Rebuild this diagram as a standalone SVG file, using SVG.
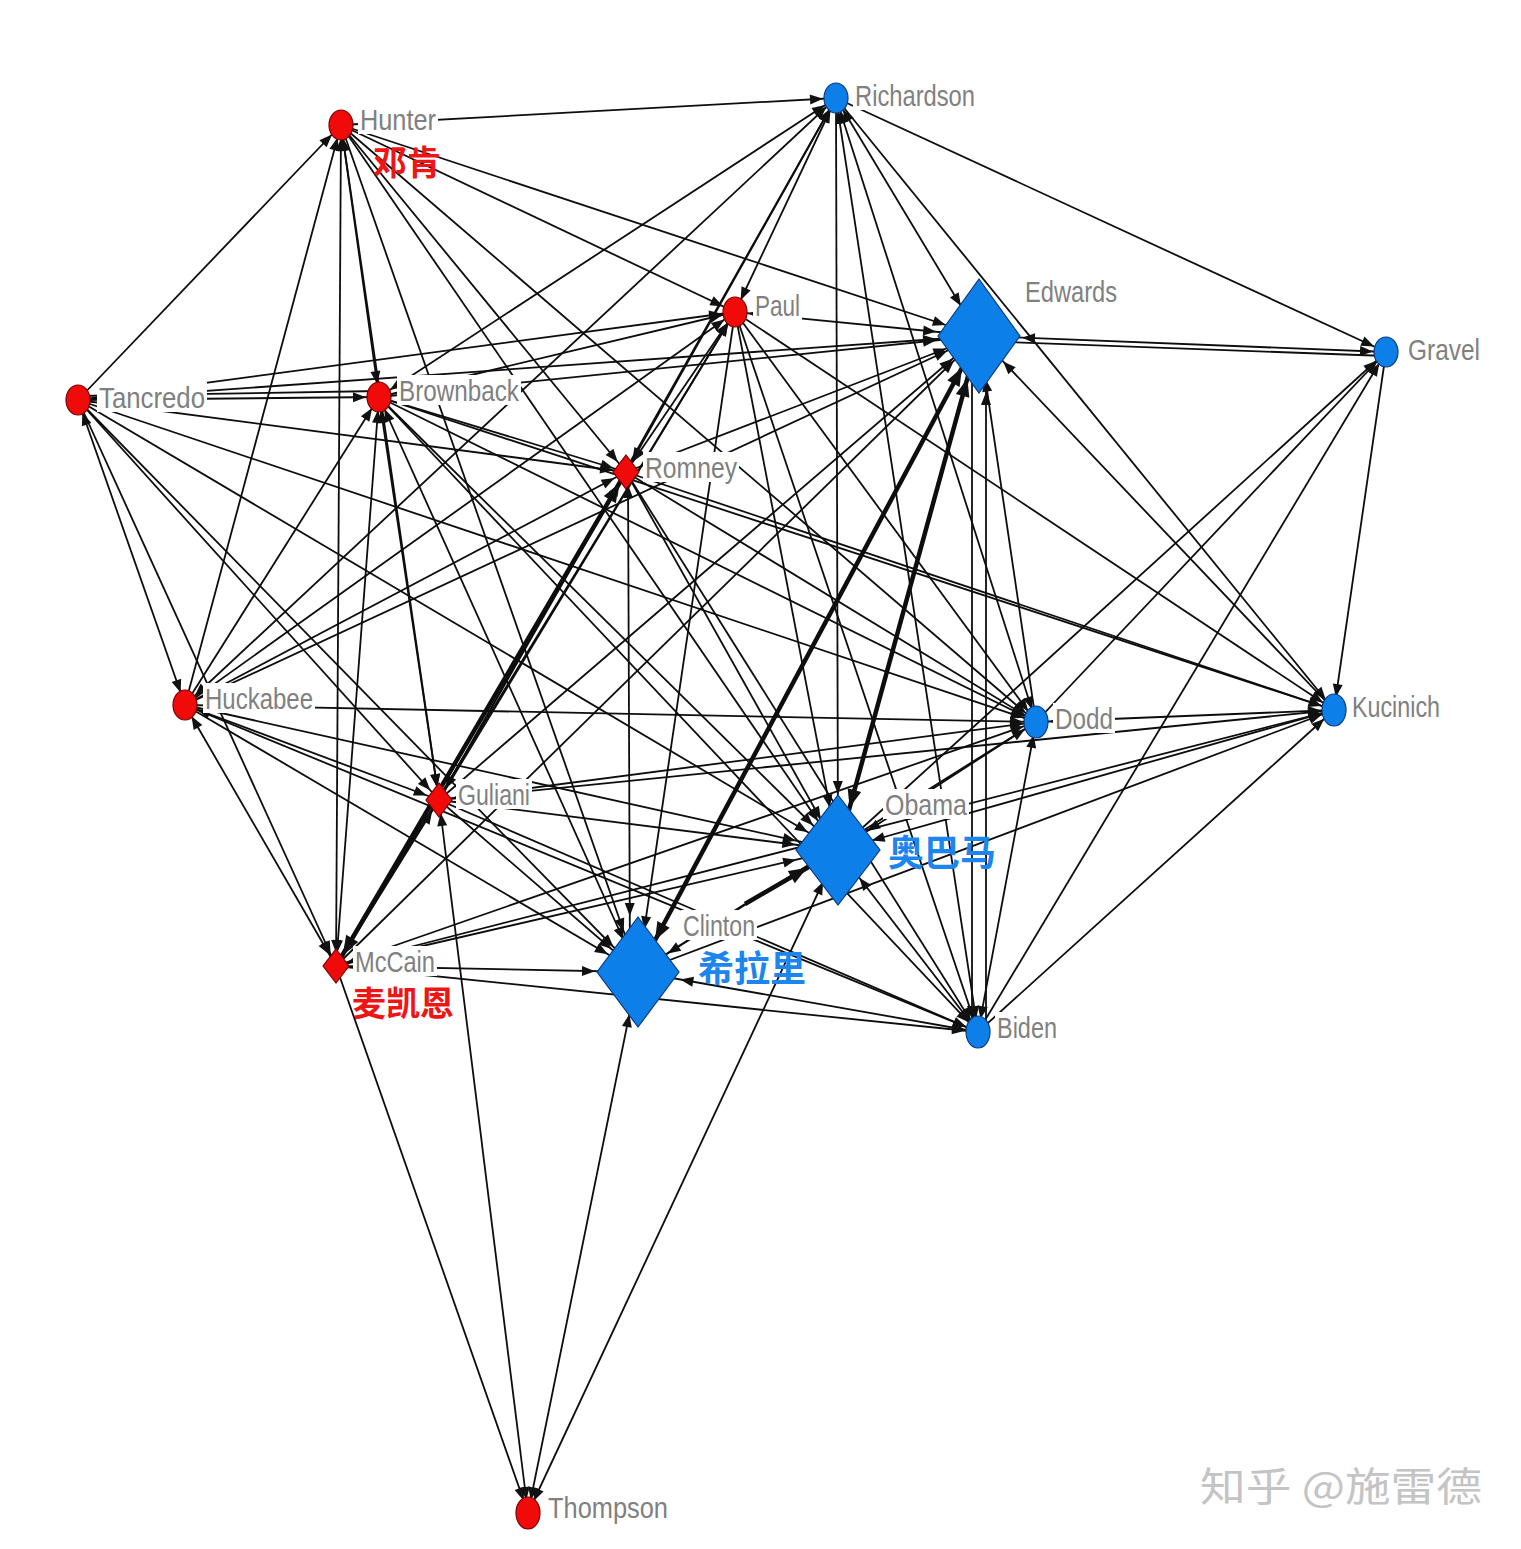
<svg xmlns="http://www.w3.org/2000/svg" width="1521" height="1549" viewBox="0 0 1521 1549">
<style>
.e line{stroke:#0d0d0d;stroke-width:1.8;fill:none}
.e line.tk{stroke-width:4.5}
.red{fill:#f00a0a;stroke:#7a0000;stroke-width:1.2}
.blue{fill:#0c7fe9;stroke:#0a3a80;stroke-width:1.2}
.lb{font-family:"Liberation Sans","DejaVu Sans",sans-serif;font-size:29px;fill:#808080}
.bg{fill:#ffffff}
.cnr{font-family:"Noto Sans CJK SC",sans-serif;font-size:34px;font-weight:bold;fill:#f01414}
.cnb{font-family:"Noto Sans CJK SC",sans-serif;font-size:36px;font-weight:bold;fill:#1c86ee}
.wm{font-family:"Noto Sans CJK SC",sans-serif;font-size:40px;fill:#c4c4c4}
</style>
<defs>
<marker id="s" markerUnits="userSpaceOnUse" orient="auto-start-reverse" refX="13" refY="0" markerWidth="1" markerHeight="1" overflow="visible"><path d="M0,0 L-13,-5 L-13,5 Z" fill="#111"/></marker>
<marker id="d" markerUnits="userSpaceOnUse" orient="auto-start-reverse" refX="35" refY="0" markerWidth="1" markerHeight="1" overflow="visible"><path d="M0,0 L-13,-5 L-13,5 Z" fill="#111"/></marker>
<marker id="h" markerUnits="userSpaceOnUse" orient="auto-start-reverse" refX="43" refY="0" markerWidth="1" markerHeight="1" overflow="visible"><path d="M0,0 L-13,-5 L-13,5 Z" fill="#111"/></marker>
<marker id="v" markerUnits="userSpaceOnUse" orient="auto-start-reverse" refX="56" refY="0" markerWidth="1" markerHeight="1" overflow="visible"><path d="M0,0 L-13,-5 L-13,5 Z" fill="#111"/></marker>
<marker id="ts" markerUnits="userSpaceOnUse" orient="auto-start-reverse" refX="14" refY="0" markerWidth="1" markerHeight="1" overflow="visible"><path d="M0,0 L-18,-7 L-18,7 Z" fill="#111"/></marker>
<marker id="td" markerUnits="userSpaceOnUse" orient="auto-start-reverse" refX="36" refY="0" markerWidth="1" markerHeight="1" overflow="visible"><path d="M0,0 L-18,-7 L-18,7 Z" fill="#111"/></marker>
<marker id="th" markerUnits="userSpaceOnUse" orient="auto-start-reverse" refX="44" refY="0" markerWidth="1" markerHeight="1" overflow="visible"><path d="M0,0 L-18,-7 L-18,7 Z" fill="#111"/></marker>
</defs>
<rect width="1521" height="1549" fill="#ffffff"/>
<g id="connectors" class="e">
<!-- Hunter -->
<line x1="341" y1="125" x2="836" y2="98" marker-end="url(#s)"/>
<line x1="341" y1="125" x2="979" y2="336" marker-end="url(#d)"/>
<line x1="341" y1="125" x2="735" y2="312" marker-end="url(#s)"/>
<line x1="341" y1="125" x2="626" y2="472" marker-end="url(#s)"/>
<line x1="341" y1="125" x2="379" y2="397" marker-end="url(#s)" marker-start="url(#s)"/>
<line x1="341" y1="125" x2="336" y2="966" marker-end="url(#s)" marker-start="url(#s)"/>
<line x1="341" y1="125" x2="439" y2="800" marker-end="url(#s)" marker-start="url(#s)"/>
<line x1="341" y1="125" x2="638" y2="972" marker-end="url(#h)"/>
<line x1="341" y1="125" x2="838" y2="850" marker-end="url(#d)"/>
<line x1="341" y1="125" x2="1036" y2="722" marker-end="url(#s)"/>
<line x1="78" y1="400" x2="341" y2="125" marker-end="url(#s)"/>
<line x1="185" y1="705" x2="341" y2="125" marker-end="url(#s)"/>
<!-- Richardson -->
<line x1="836" y1="98" x2="1386" y2="352" marker-end="url(#s)"/>
<line x1="836" y1="98" x2="979" y2="336" marker-end="url(#d)" marker-start="url(#s)"/>
<line x1="836" y1="98" x2="735" y2="312" marker-end="url(#s)" marker-start="url(#s)"/>
<line x1="836" y1="98" x2="379" y2="397" marker-end="url(#s)" marker-start="url(#s)"/>
<line x1="836" y1="98" x2="185" y2="705" marker-end="url(#s)" marker-start="url(#s)"/>
<line x1="836" y1="98" x2="626" y2="472" marker-end="url(#s)" marker-start="url(#s)"/>
<line x1="836" y1="98" x2="838" y2="850" marker-end="url(#v)"/>
<line x1="836" y1="98" x2="1036" y2="722" marker-end="url(#s)" marker-start="url(#s)"/>
<line x1="836" y1="98" x2="978" y2="1032" marker-end="url(#s)" marker-start="url(#s)"/>
<line x1="836" y1="98" x2="439" y2="800" marker-end="url(#s)" marker-start="url(#s)"/>
<line x1="836" y1="98" x2="1334" y2="710" marker-end="url(#s)"/>
<!-- Paul -->
<line x1="735" y1="312" x2="979" y2="336" marker-end="url(#h)" marker-start="url(#s)"/>
<line x1="78" y1="400" x2="735" y2="312" marker-end="url(#s)"/>
<line x1="185" y1="705" x2="735" y2="312" marker-end="url(#s)"/>
<line x1="379" y1="397" x2="735" y2="312" marker-end="url(#s)"/>
<line x1="735" y1="312" x2="626" y2="472" marker-end="url(#s)" marker-start="url(#s)"/>
<line x1="735" y1="312" x2="838" y2="850" marker-end="url(#h)"/>
<line x1="735" y1="312" x2="638" y2="972" marker-end="url(#h)"/>
<line x1="735" y1="312" x2="978" y2="1032" marker-end="url(#s)"/>
<line x1="735" y1="312" x2="1036" y2="722" marker-end="url(#s)"/>
<line x1="735" y1="312" x2="1334" y2="710" marker-end="url(#s)"/>
<line x1="439" y1="800" x2="735" y2="312" marker-end="url(#s)"/>
<line x1="336" y1="966" x2="735" y2="312" marker-end="url(#s)"/>
<!-- Edwards -->
<line x1="1386" y1="352" x2="979" y2="336" marker-end="url(#h)" marker-start="url(#s)"/>
<line x1="1386" y1="356" x2="979" y2="341"/>
<line x1="78" y1="400" x2="979" y2="336" marker-end="url(#h)"/>
<line x1="379" y1="397" x2="979" y2="336" marker-end="url(#h)"/>
<line x1="185" y1="705" x2="979" y2="336" marker-end="url(#d)"/>
<line x1="626" y1="472" x2="979" y2="336" marker-end="url(#d)"/>
<line x1="439" y1="800" x2="979" y2="336" marker-end="url(#d)"/>
<line x1="336" y1="966" x2="979" y2="336" marker-end="url(#d)"/>
<line x1="986" y1="1032" x2="986" y2="336" marker-end="url(#v)"/>
<line x1="972" y1="336" x2="972" y2="1032" marker-end="url(#s)"/>
<line x1="1036" y1="722" x2="979" y2="336" marker-end="url(#h)"/>
<line x1="1334" y1="710" x2="979" y2="336" marker-end="url(#d)"/>
<!-- Gravel -->
<line x1="1036" y1="722" x2="1386" y2="352" marker-end="url(#s)"/>
<line x1="838" y1="850" x2="1386" y2="352" marker-end="url(#s)"/>
<line x1="978" y1="1032" x2="1386" y2="352" marker-end="url(#s)"/>
<line x1="1386" y1="352" x2="1334" y2="710" marker-end="url(#s)"/>
<!-- Tancredo -->
<line x1="78" y1="400" x2="379" y2="397" marker-end="url(#s)"/>
<line x1="78" y1="396" x2="379" y2="391"/>
<line x1="78" y1="400" x2="626" y2="472" marker-end="url(#s)"/>
<line x1="78" y1="400" x2="185" y2="705" marker-end="url(#s)" marker-start="url(#s)"/>
<line x1="78" y1="400" x2="336" y2="966" marker-end="url(#s)"/>
<line x1="78" y1="400" x2="439" y2="800" marker-end="url(#s)"/>
<line x1="78" y1="400" x2="638" y2="972" marker-end="url(#d)"/>
<line x1="78" y1="400" x2="838" y2="850" marker-end="url(#d)"/>
<line x1="78" y1="400" x2="1036" y2="722" marker-end="url(#s)"/>
<!-- Brownback -->
<line x1="379" y1="397" x2="626" y2="472" marker-end="url(#s)"/>
<line x1="379" y1="397" x2="1036" y2="722" marker-end="url(#s)"/>
<line x1="379" y1="397" x2="838" y2="850" marker-end="url(#d)"/>
<line x1="379" y1="397" x2="638" y2="972" marker-end="url(#d)" marker-start="url(#s)"/>
<line x1="379" y1="397" x2="978" y2="1032" marker-end="url(#s)"/>
<line x1="379" y1="397" x2="439" y2="800" marker-end="url(#s)" marker-start="url(#s)"/>
<line x1="379" y1="397" x2="336" y2="966" marker-end="url(#s)" marker-start="url(#s)"/>
<line x1="185" y1="705" x2="379" y2="397" marker-end="url(#s)"/>
<line x1="379" y1="397" x2="1334" y2="710" marker-end="url(#s)"/>
<!-- Romney -->
<line class="tk" x1="626" y1="472" x2="336" y2="966" marker-end="url(#ts)" marker-start="url(#ts)"/>
<line x1="628" y1="472" x2="630" y2="972" marker-end="url(#v)" marker-start="url(#s)"/>
<line x1="626" y1="472" x2="838" y2="850" marker-end="url(#d)"/>
<line x1="626" y1="472" x2="978" y2="1032" marker-end="url(#s)"/>
<line x1="626" y1="472" x2="1036" y2="722" marker-end="url(#s)"/>
<line x1="626" y1="472" x2="1334" y2="710" marker-end="url(#s)"/>
<line x1="185" y1="705" x2="626" y2="472" marker-end="url(#s)"/>
<line x1="439" y1="800" x2="626" y2="472" marker-end="url(#s)"/>
<!-- Huckabee -->
<line x1="185" y1="705" x2="1036" y2="722" marker-end="url(#s)"/>
<line x1="185" y1="705" x2="439" y2="800" marker-end="url(#s)" marker-start="url(#s)"/>
<line x1="185" y1="705" x2="336" y2="966" marker-end="url(#s)" marker-start="url(#s)"/>
<line x1="185" y1="705" x2="638" y2="972" marker-end="url(#d)"/>
<line x1="185" y1="705" x2="838" y2="850" marker-end="url(#h)"/>
<line x1="185" y1="705" x2="978" y2="1032" marker-end="url(#s)"/>
<!-- Dodd -->
<line x1="1036" y1="722" x2="1334" y2="710" marker-end="url(#s)" marker-start="url(#s)"/>
<line x1="1036" y1="722" x2="439" y2="800" marker-end="url(#s)" marker-start="url(#s)"/>
<line x1="1036" y1="722" x2="336" y2="966" marker-end="url(#s)" marker-start="url(#s)"/>
<line x1="1036" y1="722" x2="638" y2="972" marker-end="url(#d)"/>
<line x1="1036" y1="722" x2="838" y2="850" marker-end="url(#d)" marker-start="url(#s)"/>
<line x1="978" y1="1032" x2="1036" y2="722" marker-end="url(#s)" marker-start="url(#s)"/>
<!-- Kucinich -->
<line x1="439" y1="800" x2="1334" y2="710" marker-end="url(#s)"/>
<line x1="336" y1="966" x2="1334" y2="710" marker-end="url(#s)"/>
<line x1="838" y1="850" x2="1334" y2="710" marker-end="url(#s)" marker-start="url(#d)"/>
<line x1="638" y1="972" x2="1334" y2="710" marker-end="url(#s)"/>
<line x1="978" y1="1032" x2="1334" y2="710" marker-end="url(#s)"/>
<!-- Guliani -->
<line x1="439" y1="800" x2="838" y2="850" marker-end="url(#h)"/>
<line x1="439" y1="800" x2="638" y2="972" marker-end="url(#d)"/>
<line x1="439" y1="800" x2="978" y2="1032" marker-end="url(#s)"/>
<line x1="439" y1="800" x2="528" y2="1513" marker-end="url(#s)" marker-start="url(#s)"/>
<line x1="336" y1="966" x2="439" y2="800" marker-end="url(#s)" marker-start="url(#s)"/>
<!-- Obama -->
<line class="tk" x1="979" y1="336" x2="838" y2="850" marker-end="url(#th)" marker-start="url(#th)"/>
<line class="tk" x1="979" y1="336" x2="638" y2="972" marker-end="url(#td)" marker-start="url(#td)"/>
<line class="tk" x1="745" y1="904" x2="838" y2="850" marker-end="url(#td)"/>
<line x1="638" y1="972" x2="745" y2="904"/>
<line x1="838" y1="850" x2="978" y2="1032" marker-end="url(#s)" marker-start="url(#d)"/>
<line x1="528" y1="1513" x2="838" y2="850" marker-end="url(#d)" marker-start="url(#s)"/>
<line x1="336" y1="966" x2="838" y2="850" marker-end="url(#h)"/>
<!-- Clinton -->
<line x1="638" y1="972" x2="978" y2="1032" marker-end="url(#s)" marker-start="url(#h)"/>
<line x1="336" y1="966" x2="638" y2="972" marker-end="url(#h)"/>
<line x1="528" y1="1513" x2="638" y2="972" marker-end="url(#h)" marker-start="url(#s)"/>
<!-- McCain -->
<line x1="336" y1="966" x2="978" y2="1032" marker-end="url(#s)"/>
<line x1="336" y1="966" x2="528" y2="1513" marker-end="url(#s)"/>
</g>
<g id="node-hunter">
<rect class="bg" x="358" y="104" width="80" height="30"/>
<ellipse class="red" cx="341" cy="125" rx="12" ry="15"/>
<text class="lb" x="360" y="130" textLength="76" lengthAdjust="spacingAndGlyphs">Hunter</text>
<text class="cnr" x="373" y="175">邓肯</text>
</g>
<g id="node-richardson">
<rect class="bg" x="853" y="80" width="124" height="30"/>
<ellipse class="blue" cx="836" cy="98" rx="12" ry="15"/>
<text class="lb" x="855" y="106" textLength="120" lengthAdjust="spacingAndGlyphs">Richardson</text>
</g>
<g id="node-paul">
<rect class="bg" x="753" y="290" width="49" height="30"/>
<ellipse class="red" cx="735" cy="312" rx="12" ry="15"/>
<text class="lb" x="755" y="316" textLength="45" lengthAdjust="spacingAndGlyphs">Paul</text>
</g>
<g id="node-edwards">
<rect class="bg" x="1023" y="276" width="96" height="30"/>
<path class="blue" d="M979,279 L1020,336 L979,393 L938,336 Z"/>
<text class="lb" x="1025" y="302" textLength="92" lengthAdjust="spacingAndGlyphs">Edwards</text>
</g>
<g id="node-gravel">
<rect class="bg" x="1406" y="334" width="76" height="30"/>
<ellipse class="blue" cx="1386" cy="352" rx="12" ry="15"/>
<text class="lb" x="1408" y="360" textLength="72" lengthAdjust="spacingAndGlyphs">Gravel</text>
</g>
<g id="node-tancredo">
<rect class="bg" x="97" y="382" width="110" height="30"/>
<ellipse class="red" cx="78" cy="400" rx="12" ry="15"/>
<text class="lb" x="99" y="408" textLength="106" lengthAdjust="spacingAndGlyphs">Tancredo</text>
</g>
<g id="node-brownback">
<rect class="bg" x="397" y="375" width="124" height="30"/>
<ellipse class="red" cx="379" cy="397" rx="12" ry="15"/>
<text class="lb" x="399" y="401" textLength="120" lengthAdjust="spacingAndGlyphs">Brownback</text>
</g>
<g id="node-romney">
<rect class="bg" x="643" y="452" width="96" height="30"/>
<path class="red" d="M626,455 L639,472 L626,489 L613,472 Z"/>
<text class="lb" x="645" y="478" textLength="92" lengthAdjust="spacingAndGlyphs">Romney</text>
</g>
<g id="node-huckabee">
<rect class="bg" x="203" y="683" width="112" height="30"/>
<ellipse class="red" cx="185" cy="705" rx="12" ry="15"/>
<text class="lb" x="205" y="709" textLength="108" lengthAdjust="spacingAndGlyphs">Huckabee</text>
</g>
<g id="node-dodd">
<rect class="bg" x="1053" y="703" width="62" height="30"/>
<ellipse class="blue" cx="1036" cy="722" rx="12" ry="16"/>
<text class="lb" x="1055" y="729" textLength="58" lengthAdjust="spacingAndGlyphs">Dodd</text>
</g>
<g id="node-kucinich">
<rect class="bg" x="1350" y="691" width="92" height="30"/>
<ellipse class="blue" cx="1334" cy="710" rx="12" ry="16"/>
<text class="lb" x="1352" y="717" textLength="88" lengthAdjust="spacingAndGlyphs">Kucinich</text>
</g>
<g id="node-guliani">
<rect class="bg" x="456" y="779" width="76" height="30"/>
<path class="red" d="M439,783 L452,800 L439,817 L426,800 Z"/>
<text class="lb" x="458" y="805" textLength="72" lengthAdjust="spacingAndGlyphs">Guliani</text>
</g>
<g id="node-obama">
<rect class="bg" x="883" y="789" width="86" height="30"/>
<path class="blue" d="M838,795 L880,850 L838,905 L796,850 Z"/>
<text class="lb" x="885" y="815" textLength="82" lengthAdjust="spacingAndGlyphs">Obama</text>
<text class="cnb" x="888" y="866">奥巴马</text>
</g>
<g id="node-clinton">
<rect class="bg" x="681" y="910" width="76" height="30"/>
<path class="blue" d="M638,917 L679,972 L638,1027 L597,972 Z"/>
<text class="lb" x="683" y="936" textLength="72" lengthAdjust="spacingAndGlyphs">Clinton</text>
<text class="cnb" x="698" y="982">希拉里</text>
</g>
<g id="node-mccain">
<rect class="bg" x="353" y="946" width="84" height="30"/>
<path class="red" d="M336,949 L349,966 L336,983 L323,966 Z"/>
<text class="lb" x="355" y="972" textLength="80" lengthAdjust="spacingAndGlyphs">McCain</text>
<text class="cnr" x="352" y="1016">麦凯恩</text>
</g>
<g id="node-biden">
<rect class="bg" x="995" y="1012" width="64" height="30"/>
<ellipse class="blue" cx="978" cy="1032" rx="12" ry="16"/>
<text class="lb" x="997" y="1038" textLength="60" lengthAdjust="spacingAndGlyphs">Biden</text>
</g>
<g id="node-thompson">
<rect class="bg" x="546" y="1492" width="124" height="30"/>
<ellipse class="red" cx="528" cy="1513" rx="12" ry="16"/>
<text class="lb" x="548" y="1518" textLength="120" lengthAdjust="spacingAndGlyphs">Thompson</text>
</g>
<text class="wm" x="1200" y="1501" textLength="282" lengthAdjust="spacingAndGlyphs">知乎 @施雷德</text>
</svg>
